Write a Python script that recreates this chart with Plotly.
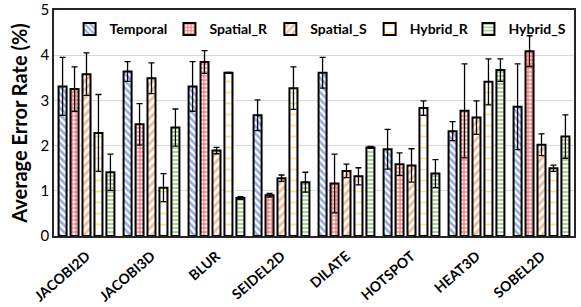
import plotly.graph_objects as go

categories = ["JACOBI2D", "JACOBI3D", "BLUR", "SEIDEL2D", "DILATE", "HOTSPOT", "HEAT3D", "SOBEL2D"]
series_names = ["Temporal", "Spatial_R", "Spatial_S", "Hybrid_R", "Hybrid_S"]

temporal = [3.31, 3.64, 3.31, 2.67, 3.61, 1.92, 2.32, 2.86]
temporal_err = [0.64, 0.22, 0.55, 0.34, 0.34, 0.44, 0.21, 0.95]
spatial_r = [3.25, 2.47, 3.85, 0.90, 1.16, 1.59, 2.77, 4.09]
spatial_r_err = [0.49, 0.46, 0.25, 0.04, 0.65, 0.25, 1.04, 0.34]
spatial_s = [3.58, 3.49, 1.89, 1.28, 1.44, 1.56, 2.62, 2.02]
spatial_s_err = [0.47, 0.34, 0.07, 0.07, 0.15, 0.37, 0.37, 0.24]
hybrid_r = [2.28, 1.07, 3.61, 3.27, 1.32, 2.83, 3.41, 1.50]
hybrid_r_err = [0.85, 0.31, 0.01, 0.47, 0.19, 0.16, 0.51, 0.07]
hybrid_s = [1.41, 2.40, 0.84, 1.19, 1.96, 1.38, 3.67, 2.20]
hybrid_s_err = [0.40, 0.41, 0.03, 0.22, 0.02, 0.31, 0.25, 0.48]

values = [temporal, spatial_r, spatial_s, hybrid_r, hybrid_s]
errors = [temporal_err, spatial_r_err, spatial_s_err, hybrid_r_err, hybrid_s_err]

patterns = [
    dict(shape="\\", fgcolor="#2F5FC4", bgcolor="white", size=5, solidity=0.55),
    dict(shape="+", fgcolor="#FF0000", bgcolor="white", size=4, solidity=0.6),
    dict(shape="/", fgcolor="#ED7D31", bgcolor="white", size=6, solidity=0.5),
    dict(shape="-", fgcolor="#FFC000", bgcolor="white", size=11, solidity=0.15),
    dict(shape="-", fgcolor="#5FA032", bgcolor="white", size=4, solidity=0.55),
]

legend_ids = ["legend", "legend2", "legend3", "legend4", "legend5"]
legend_x = [0.030, 0.222, 0.416, 0.607, 0.797]

fig = go.Figure()
for name, vals, errs, pat, lid in zip(series_names, values, errors, patterns, legend_ids):
    fig.add_trace(go.Bar(
        name=name, x=categories, y=vals, legend=lid,
        marker=dict(color="white", pattern=pat, line=dict(color="black", width=2)),
        error_y=dict(type="data", array=errs, symmetric=True, color="black", thickness=1.3, width=3),
    ))

legend_style = dict(orientation="h", xanchor="left", y=0.985, yanchor="top",
                    font=dict(size=14, family="Lato", weight="bold"), bgcolor="rgba(0,0,0,0)",
                    itemwidth=30)
fig.update_layout(
    width=581, height=307,
    margin=dict(l=54, r=7, t=10, b=71),
    paper_bgcolor="white", plot_bgcolor="white",
    barmode="group", bargap=0.08, bargroupgap=0.33,
    font=dict(family="Lato, Open Sans, sans-serif", color="black"),
    showlegend=True,
)
fig.update_layout({lid: dict(legend_style, x=lx) for lid, lx in zip(legend_ids, legend_x)})
fig.update_yaxes(range=[0, 5], dtick=1, showgrid=True, gridcolor="#D9D9D9", gridwidth=1,
                 tickfont=dict(size=15), ticks="", showline=True, linecolor="#262626", linewidth=1.5,
                 mirror=True, zeroline=False, automargin=False,
                 title=dict(text="Average Error Rate (%)", font=dict(size=20, weight="bold"), standoff=8))
fig.update_xaxes(tickangle=-41, tickfont=dict(size=14, weight="bold"), showline=True,
                 linecolor="#262626", linewidth=1.5, mirror=True, ticks="", automargin=False,
                 ticklabelstandoff=5)

fig.write_html("out.html", post_script="document.body.style.margin='0px';",
               config={"displayModeBar": False})
